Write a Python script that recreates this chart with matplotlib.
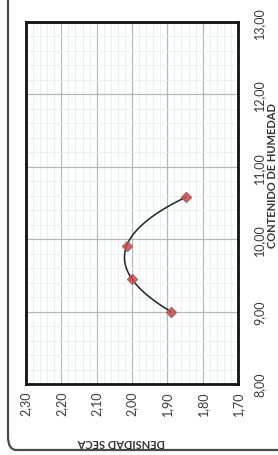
import matplotlib
matplotlib.use('Agg')
import matplotlib.pyplot as plt
import numpy as np
from matplotlib.patches import FancyBboxPatch
from matplotlib.ticker import MultipleLocator, FixedLocator

plt.rcParams['font.family'] = ['Lato', 'DejaVu Sans']

# datos del ensayo (humedad %, densidad seca)
humedad = [9.00, 9.45, 9.91, 10.58]
densidad = [1.89, 2.00, 2.015, 1.848]

ticks_densidad = [2.30, 2.20, 2.10, 2.00, 1.90, 1.80, 1.70]
ticks_humedad = [8.00, 9.00, 10.00, 11.00, 12.00, 13.00]

W, H = 278, 456
fig = plt.figure(figsize=(W / 100, H / 100), dpi=100)

# marco redondeado (la grafica esta girada 90 grados)
marco = FancyBboxPatch((8 / W, 5 / H), 300 / W, 470 / H,
                       boxstyle="round,pad=0,rounding_size=0.03",
                       transform=fig.transFigure, fill=False,
                       edgecolor='#4a4a4a', linewidth=1.6)
fig.patches.append(marco)

ax = fig.add_axes([26 / W, 1 - 385 / H, 212 / W, 362 / H])

# curva suave por los puntos
coef = np.polyfit(humedad, densidad, 3)
h_curva = np.linspace(min(humedad), max(humedad), 100)
ax.plot(np.polyval(coef, h_curva), h_curva, color='#222222', lw=1.1, zorder=3)
ax.plot(densidad, humedad, linestyle='none', marker='D', ms=5,
        color='#c0504d', markeredgecolor='#b5545a', alpha=0.85, zorder=4)

ax.set_xlim(2.30, 1.70)
ax.set_ylim(8.0, 13.0)
ax.xaxis.set_major_locator(FixedLocator(ticks_densidad))
ax.yaxis.set_major_locator(FixedLocator(ticks_humedad))
ax.xaxis.set_minor_locator(MultipleLocator(0.02))
ax.yaxis.set_minor_locator(MultipleLocator(0.2))
ax.set_xticklabels([f"{v:.2f}".replace('.', ',') for v in ticks_densidad],
                   rotation=90, fontsize=9, color='#3a3a3a')
ax.set_yticklabels([f"{v:.2f}".replace('.', ',') for v in ticks_humedad],
                   rotation=90, fontsize=9, color='#3a3a3a', va='center')
ax.yaxis.tick_right()
ax.tick_params(which='both', length=0)
ax.tick_params(axis='x', pad=5)
ax.tick_params(axis='y', pad=11)

ax.grid(which='minor', color='#e6edf3', lw=0.6)
ax.grid(which='major', color='#b3b8bd', lw=0.9)
ax.set_axisbelow(True)
for s in ax.spines.values():
    s.set_linewidth(2)
    s.set_color('#111111')

fig.text(121 / W, 1 - 443 / H, 'DENSIDAD SECA', rotation=180, ha='center',
         va='center', fontsize=8, fontweight='bold', color='#333333')
fig.text(273 / W, 1 - 176 / H, 'CONTENIDO DE HUMEDAD', rotation=90, ha='center',
         va='center', fontsize=8, fontweight='bold', color='#333333')

fig.savefig('out.png', dpi=100)
